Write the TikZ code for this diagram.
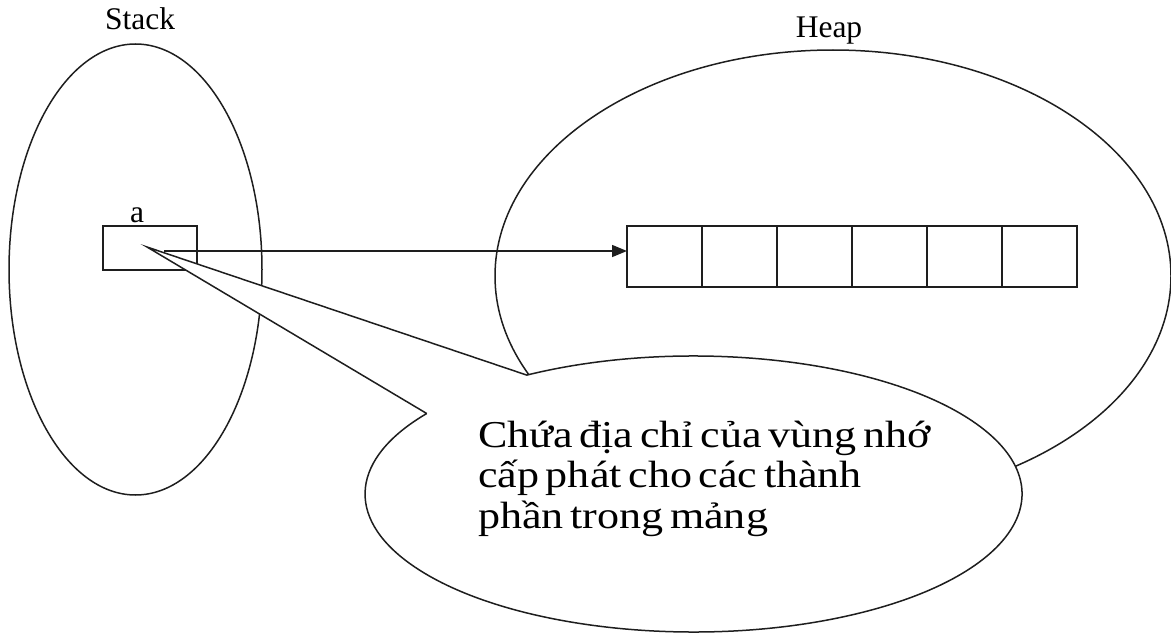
\documentclass[tikz,border=0pt]{standalone}
\usepackage{fontspec}
\setmainfont{Liberation Serif}
\newfontfamily\notefont[FakeStretch=1.16,WordSpace=0.6]{Liberation Serif}
\usetikzlibrary{shapes.geometric,arrows.meta}
\definecolor{ink}{HTML}{1E1E1E}
\tikzset{
  line/.style={draw=ink,line width=1.5pt},
  region/.style={line,ellipse,inner sep=0pt},
  cell/.style={line,rectangle,minimum width=75pt,minimum height=61pt,inner sep=0pt,outer sep=0pt},
  varbox/.style={line,rectangle,minimum width=94pt,minimum height=44pt,inner sep=0pt},
  title/.style={font=\fontsize{31.5}{34}\selectfont,inner sep=0pt},
  note/.style={font=\notefont\fontsize{38}{40.5}\selectfont,align=left,inner sep=0pt},
  ptr/.style={line,-{Triangle[length=15pt,width=12pt]}}
}
\begin{document}
\begin{tikzpicture}[x=1pt,y=1pt]
\useasboundingbox (0,0) rectangle (1171,-634);
% memory regions
\node[region,minimum width=676pt,minimum height=452pt] (heap) at (833,-276) {};
\node[region,minimum width=253pt,minimum height=451pt] (stack) at (135.5,-269.5) {};
\node[title,anchor=base] (stacklbl) at (140,-30) {Stack};
\node[title,anchor=base] (heaplbl) at (829,-38) {Heap};
% pointer variable a
\node[varbox] (a) at (150,-248) {};
\node[title,anchor=base] (albl) at (137,-222) {a};
% array cells in the heap
\node[cell] (c1) at (664.5,-256.5) {};
\node[cell,anchor=west] (c2) at (c1.east) {};
\node[cell,anchor=west] (c3) at (c2.east) {};
\node[cell,anchor=west] (c4) at (c3.east) {};
\node[cell,anchor=west] (c5) at (c4.east) {};
\node[cell,anchor=west] (c6) at (c5.east) {};
\draw[draw=ink,line width=2.6pt] (c4.north east) -- (c4.south east);
% speech bubble describing a
\coordinate (tip) at (147,-247);
\draw[line,fill=white] (426.7,-413.5) -- (tip) -- (526.8,-375.1)
  arc[start angle=120.5,end angle=-215.7,x radius=328.5,y radius=138] -- cycle;
\node[note,anchor=base west] (txt) at (478,-528)
  {Chứa địa chỉ của vùng nhớ\\cấp phát cho các thành\\phần trong mảng};
% reference from a to the first cell
\coordinate (astart) at (164,-251);
\draw[ptr] (astart) -- (astart -| c1.west);
\end{tikzpicture}
\end{document}
